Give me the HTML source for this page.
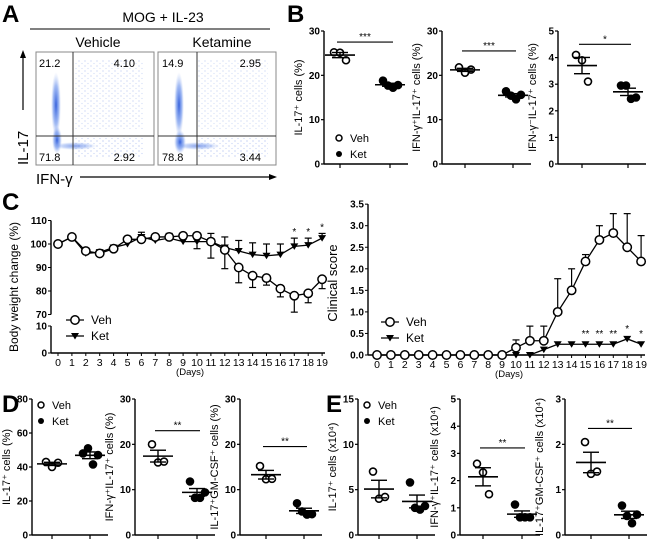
<!DOCTYPE html>
<html><head><meta charset="utf-8">
<style>
html,body{margin:0;padding:0;background:#fff;}
svg{display:block;font-family:"Liberation Sans",Arial,sans-serif;}
.tk{font-size:10px;font-weight:bold;}
.tl{font-size:11px;}
.pl{font-size:24px;font-weight:bold;}
</style></head>
<body>
<svg id="fig" width="650" height="540" viewBox="0 0 650 540" xmlns="http://www.w3.org/2000/svg">
<defs>
<radialGradient id="blob" cx="50%" cy="50%" r="50%">
<stop offset="0%" stop-color="#1e4fd8" stop-opacity="0.9"/>
<stop offset="60%" stop-color="#4a7ae8" stop-opacity="0.5"/>
<stop offset="100%" stop-color="#9bb4f0" stop-opacity="0"/>
</radialGradient>
<pattern id="dots" width="6" height="5" patternUnits="userSpaceOnUse">
<circle cx="1" cy="1" r="0.6" fill="#7f9be6"/><circle cx="4" cy="3.5" r="0.6" fill="#a7bcef"/>
</pattern>
</defs>
<!-- Panel A -->
<g>
<text class="pl" x="2" y="22">A</text>
<text x="163" y="22" font-size="14" text-anchor="middle">MOG + IL-23</text>
<line x1="30" y1="29" x2="270" y2="29" stroke="#000" stroke-width="1"/>
<text x="98" y="47" font-size="14" text-anchor="middle">Vehicle</text>
<text x="222" y="47" font-size="14" text-anchor="middle">Ketamine</text>
<g>
<rect x="36" y="52" width="118" height="113" fill="#fff" stroke="#888"/>
<rect x="74" y="60" width="70" height="70" fill="url(#dots)" opacity="0.55"/>
<rect x="74" y="138" width="70" height="20" fill="url(#dots)" opacity="0.7"/>
<ellipse cx="56" cy="105" rx="5" ry="33" fill="url(#blob)"/>
<ellipse cx="57" cy="140" rx="5" ry="14" fill="url(#blob)"/>
<ellipse cx="75" cy="146" rx="22" ry="4" fill="url(#blob)" opacity="0.6"/>
<line x1="73" y1="52" x2="73" y2="165" stroke="#333"/>
<line x1="36" y1="136" x2="154" y2="136" stroke="#333"/>
<text x="39" y="67" font-size="11">21.2</text><text x="135" y="67" font-size="11" text-anchor="end">4.10</text>
<text x="39" y="161" font-size="11">71.8</text><text x="135" y="161" font-size="11" text-anchor="end">2.92</text>
</g>
<g>
<rect x="158" y="52" width="118" height="113" fill="#fff" stroke="#888"/>
<rect x="198" y="60" width="70" height="70" fill="url(#dots)" opacity="0.5"/>
<rect x="198" y="138" width="70" height="20" fill="url(#dots)" opacity="0.7"/>
<ellipse cx="179" cy="105" rx="5" ry="33" fill="url(#blob)"/>
<ellipse cx="180" cy="142" rx="6" ry="12" fill="url(#blob)"/>
<ellipse cx="198" cy="146" rx="22" ry="4" fill="url(#blob)" opacity="0.6"/>
<line x1="197" y1="52" x2="197" y2="165" stroke="#333"/>
<line x1="158" y1="136" x2="276" y2="136" stroke="#333"/>
<text x="162" y="67" font-size="11">14.9</text><text x="261" y="67" font-size="11" text-anchor="end">2.95</text>
<text x="162" y="161" font-size="11">78.8</text><text x="261" y="161" font-size="11" text-anchor="end">3.44</text>
</g>
<text transform="translate(28,165) rotate(-90)" font-size="15">IL-17</text>
<line x1="23" y1="110" x2="23" y2="56" stroke="#000" stroke-width="1.2"/>
<polygon points="23,50 20,58 26,58" fill="#000"/>
<text x="36" y="184" font-size="15">IFN-γ</text>
<line x1="80" y1="177" x2="270" y2="177" stroke="#000" stroke-width="1.2"/>
<polygon points="277,177 269,174 269,180" fill="#000"/>
</g>
<text class="pl" x="287" y="22">B</text>
<text class="pl" x="2" y="210">C</text>
<text class="pl" x="2" y="412">D</text>
<text class="pl" x="326" y="412">E</text>
<g id="charts"></g>
</svg>
<script>
// ---- Panel B data ----
const b1Veh=[25.2,25.1,23.4], b1Ket=[18.8,17.7,17.2,17.8];
const b2Veh=[21.8,20.6,21.3], b2Ket=[16.4,15.4,14.6,15.6];
const b3Veh=[4.1,3.9,3.1], b3Ket=[2.95,2.95,2.45,2.5];
// ---- Panel D data ----
const d1Veh=[43,40,42.5], d1Ket=[48,51,41.5,47];
const d2Veh=[20,16,16.2], d2Ket=[11.8,8.2,8.2,9.4];
const d3Veh=[15.2,12.3,12.4], d3Ket=[7,5.2,4.5,4.6];
// ---- Panel E data ----
const e1Veh=[7,4,4.2], e1Ket=[5.8,3,2.8,3.2];
const e2Veh=[2.62,2.3,1.5], e2Ket=[1.12,0.65,0.65,0.65];
const e3Veh=[2.05,1.35,1.4], e3Ket=[0.65,0.42,0.26,0.45];
// ---- Panel C data ----
const days=[0,1,2,3,4,5,6,7,8,9,10,11,12,13,14,15,16,17,18,19];
const wVeh=[100,103,97,96,98,102,102,103,103,103.5,103.5,101,97.5,90,86.5,85.5,81,78,79,85];
const wVehErr=[0,0,0,1,0,0,0,0,0,0,0,7,8,6.5,5,3,3.5,7,4,4];
const wKet=[100,103,96,96.5,98.5,100,103,101.5,102.5,101,101,101,98.5,97,95.5,95,95.5,99,99.5,102.5];
const wKetErr=[0,0,0,1,1,0,2,0,2,0,-3,3.5,4.5,4.5,5,5,4.5,3.5,3,2];
const wStars=['','','','','','','','','','','','','','','','','','*','*','*'];
const cVeh=[0,0,0,0,0,0,0,0,0,0,0.17,0.33,0.33,1.0,1.5,2.17,2.67,2.83,2.5,2.17];
const cVehErr=[0,0,0,0,0,0,0,0,0,0,0.18,0.34,0.34,0.77,0.5,0.16,0.33,0.45,0.78,0.6];
const cKet=[0,0,0,0,0,0,0,0,0,0,0,0,0.125,0.25,0.25,0.25,0.25,0.25,0.375,0.25];
const cStars=['','','','','','','','','','','','','','','','**','**','**','*','*'];

const NS='http://www.w3.org/2000/svg';
const root=document.getElementById('charts');
function el(tag,attrs,parent,txt){const e=document.createElementNS(NS,tag);for(const k in attrs)e.setAttribute(k,attrs[k]);if(txt!==undefined)e.textContent=txt;(parent||root).appendChild(e);return e;}
function mean(a){return a.reduce((s,v)=>s+v,0)/a.length;}
function sem(a){const m=mean(a);const sd=Math.sqrt(a.reduce((s,v)=>s+(v-m)*(v-m),0)/(a.length-1));return sd/Math.sqrt(a.length);}

function dotPlot(name,ax,yTop,yBot,yMax,ticks,vOff,kOff,veh,ket,sig,sigV,title,legend){
  const g=el('g',{});
  
  
  const y=v=>yBot-(v/yMax)*(yBot-yTop);
  el('line',{x1:ax,y1:yTop,x2:ax,y2:yBot,stroke:'#000','stroke-width':1.4},g);
  el('line',{x1:ax,y1:yBot,x2:ax+kOff+18,y2:yBot,stroke:'#000','stroke-width':1.4},g);
  ticks.forEach(t=>{
    el('line',{x1:ax-3,y1:y(t),x2:ax,y2:y(t),stroke:'#000','stroke-width':1.2},g);
    const tx=el('text',{class:'tk',x:ax-4,y:y(t)+3.5,'text-anchor':'end'},g,String(t));
    
    
  });
  [vOff,kOff].forEach(o=>el('line',{x1:ax+o,y1:yBot,x2:ax+o,y2:yBot+4,stroke:'#000','stroke-width':1.2},g));
  [[veh,vOff,false],[ket,kOff,true]].forEach(([vals,o,filled])=>{
    const cx=ax+o;
    vals.forEach((v,i)=>{
      const jit=vals.length===3?[-6,0,6][i]:[-7,-2,3,8][i];
      const c=el('circle',{cx:cx+jit,cy:y(v),r:3.5,fill:filled?'#000':'#fff',stroke:'#000','stroke-width':1.6},g);
      
      
    });
    const m=mean(vals),s=sem(vals);
    el('line',{x1:cx-15,y1:y(m),x2:cx+15,y2:y(m),stroke:'#000','stroke-width':1.6},g);
    el('line',{x1:cx-8,y1:y(m+s),x2:cx+8,y2:y(m+s),stroke:'#000','stroke-width':1.4},g);
    el('line',{x1:cx-8,y1:y(m-s),x2:cx+8,y2:y(m-s),stroke:'#000','stroke-width':1.4},g);
    el('line',{x1:cx,y1:y(m+s),x2:cx,y2:y(m-s),stroke:'#000','stroke-width':1.4},g);
  });
  if(sig){
    const sy=y(sigV);
    el('line',{x1:ax+vOff-3,y1:sy,x2:ax+kOff+3,y2:sy,stroke:'#000','stroke-width':1.1},g);
    const st=el('text',{x:(2*ax+vOff+kOff)/2,y:sy-2,'text-anchor':'middle','font-size':10},g,sig);
    
    
  }
  const tt=el('text',{class:'tl',transform:`translate(${ax-22},${(yTop+yBot)/2}) rotate(-90)`,'text-anchor':'middle'},g,title);
  
  
  if(legend){
    const lg=el('g',{},g);
    
    
    el('circle',{cx:legend[0],cy:legend[1],r:3,fill:'#fff',stroke:'#000','stroke-width':1.5},lg);
    el('text',{x:legend[0]+11,y:legend[1]+4,'font-size':11},lg,'Veh');
    el('circle',{cx:legend[0],cy:legend[1]+16,r:3,fill:'#000'},lg);
    el('text',{x:legend[0]+11,y:legend[1]+20,'font-size':11},lg,'Ket');
  }
}
dotPlot('chart-b1',324,31,164,30,[0,10,20,30],16,66,b1Veh,b1Ket,'***',27.5,'IL-17⁺ cells (%)',[339,138]);
dotPlot('chart-b2',442,31,164,30,[0,10,20,30],23,71,b2Veh,b2Ket,'***',25.5,'IFN-γ⁺IL-17⁺ cells (%)');
dotPlot('chart-b3',558,31,164,5,[0,1,2,3,4,5],24,70,b3Veh,b3Ket,'*',4.5,'IFN-γ⁻IL-17⁺ cells (%)');
dotPlot('chart-d1',32,399,535,80,[0,20,40,60,80],20,58,d1Veh,d1Ket,'',0,'IL-17⁺ cells (%)',[41,405]);
dotPlot('chart-d2',135,399,535,30,[0,10,20,30],23,62,d2Veh,d2Ket,'**',23,'IFN-γ⁺IL-17⁺ cells (%)');
dotPlot('chart-d3',240,399,535,30,[0,10,20,30],26,64,d3Veh,d3Ket,'**',19.5,'IL-17⁺GM-CSF⁺ cells (%)');
dotPlot('chart-e1',358,399,535,15,[0,5,10,15],21,59,e1Veh,e1Ket,'',0,'IL-17⁺ cells (x10⁴)',[367,405]);
dotPlot('chart-e2',460,399,535,5,[0,1,2,3,4,5],23,62,e2Veh,e2Ket,'**',3.2,'IFN-γ⁺IL-17⁺ cells (x10⁴)');
dotPlot('chart-e3',565,399,535,3,[0,1,2,3],26,64,e3Veh,e3Ket,'**',2.35,'IL-17⁺GM-CSF⁺ cells (x10⁴)');

function marker(g,x,y,type){
  let m;
  if(type==='veh') m=el('circle',{cx:x,cy:y,r:4.2,fill:'#fff',stroke:'#000','stroke-width':1.5},g);
  else m=el('polygon',{points:`${x-4},${y-3} ${x+4},${y-3} ${x},${y+3.5}`,fill:'#000'},g);
  
  
}
function errBar(g,x,y1,y2){
  el('line',{x1:x,y1:y1,x2:x,y2:y2,stroke:'#000','stroke-width':1.2},g);
  el('line',{x1:x-3.5,y1:y2,x2:x+3.5,y2:y2,stroke:'#000','stroke-width':1.2},g);
}
function legendC(g,x,y){
  const lg=el('g',{},g);
  
  
  el('line',{x1:x-9,y1:y,x2:x+9,y2:y,stroke:'#000','stroke-width':1.3},lg);
  marker(lg,x,y,'veh');
  el('text',{x:x+16,y:y+4,'font-size':12},lg,'Veh');
  el('line',{x1:x-9,y1:y+16,x2:x+9,y2:y+16,stroke:'#000','stroke-width':1.3},lg);
  marker(lg,x,y+16,'ket');
  el('text',{x:x+16,y:y+20,'font-size':12},lg,'Ket');
}
function xAxisDays(g,x,y0,y1,axX,endX){
  el('line',{x1:axX,y1:y0,x2:endX,y2:y0,stroke:'#000','stroke-width':1.4},g);
  days.forEach(d=>{
    el('line',{x1:x(d),y1:y0,x2:x(d),y2:y0+3,stroke:'#000'},g);
    const t=el('text',{x:x(d),y:y0+13,'text-anchor':'middle','font-size':10.5},g,String(d));
    
    
  });
  const dl=el('text',{x:(x(0)+x(19))/2,y:y0+22,'text-anchor':'middle','font-size':9.5},g,'(Days)');
  
  
}

// Body weight chart (broken axis)
(function(){
  const g=el('g',{});
  
  
  const ax=51;
  const x=d=>58+d*13.9;
  const yU=v=>244-(v-100)*2.35;
  const yL=v=>353-v*2.7;
  el('line',{x1:ax,y1:yU(110),x2:ax,y2:yU(70),stroke:'#000','stroke-width':1.4},g);
  el('line',{x1:ax,y1:yL(10),x2:ax,y2:yL(0),stroke:'#000','stroke-width':1.4},g);
  [70,80,90,100,110].forEach(t=>{el('line',{x1:ax-3,y1:yU(t),x2:ax,y2:yU(t),stroke:'#000'},g);el('text',{class:'tk',x:ax-4,y:yU(t)+3.5,'text-anchor':'end'},g,String(t));});
  [0,10].forEach(t=>{el('line',{x1:ax-3,y1:yL(t),x2:ax,y2:yL(t),stroke:'#000'},g);el('text',{class:'tk',x:ax-4,y:yL(t)+3.5,'text-anchor':'end'},g,String(t));});
  xAxisDays(g,x,353,0,ax,325);
  const tt=el('text',{transform:'translate(18,287) rotate(-90)','text-anchor':'middle','font-size':12},g,'Body weight change (%)');
  
  
  days.forEach((d,i)=>{ if(wVehErr[i]>0) errBar(g,x(d),yU(wVeh[i]),yU(wVeh[i]-wVehErr[i])); });
  days.forEach((d,i)=>{ if(wKetErr[i]!==0) errBar(g,x(d),yU(wKet[i]),yU(wKet[i]+wKetErr[i])); });
  el('polyline',{points:days.map((d,i)=>x(d)+','+yU(wKet[i])).join(' '),fill:'none',stroke:'#000','stroke-width':1.3},g);
  el('polyline',{points:days.map((d,i)=>x(d)+','+yU(wVeh[i])).join(' '),fill:'none',stroke:'#000','stroke-width':1.3},g);
  days.forEach((d,i)=>marker(g,x(d),yU(wKet[i]),'ket'));
  days.forEach((d,i)=>marker(g,x(d),yU(wVeh[i]),'veh'));
  days.forEach((d,i)=>{ if(wStars[i]){const s=el('text',{x:x(d),y:yU(wKet[i]+Math.max(wKetErr[i],0))-3,'text-anchor':'middle','font-size':10},g,wStars[i]);}});
  legendC(g,75,320);
})();

// Clinical score chart
(function(){
  const g=el('g',{});
  
  
  const ax=368;
  const x=d=>377+d*13.9;
  const y=v=>355-v*43.1;
  el('line',{x1:ax,y1:y(3.5),x2:ax,y2:y(0),stroke:'#000','stroke-width':1.4},g);
  [0,0.5,1,1.5,2,2.5,3,3.5].forEach(t=>{el('line',{x1:ax-3,y1:y(t),x2:ax,y2:y(t),stroke:'#000'},g);el('text',{class:'tk',x:ax-4,y:y(t)+3.5,'text-anchor':'end'},g,t.toFixed(1));});
  xAxisDays(g,x,355,0,ax,645);
  const tt=el('text',{transform:'translate(337,283) rotate(-90)','text-anchor':'middle','font-size':13},g,'Clinical score');
  
  
  days.forEach((d,i)=>{ if(cVehErr[i]>0) errBar(g,x(d),y(cVeh[i]),y(cVeh[i]+cVehErr[i])); });
  el('polyline',{points:days.map((d,i)=>x(d)+','+y(cKet[i])).join(' '),fill:'none',stroke:'#000','stroke-width':1.3},g);
  el('polyline',{points:days.map((d,i)=>x(d)+','+y(cVeh[i])).join(' '),fill:'none',stroke:'#000','stroke-width':1.3},g);
  days.forEach((d,i)=>marker(g,x(d),y(cKet[i]),'ket'));
  days.forEach((d,i)=>marker(g,x(d),y(cVeh[i]),'veh'));
  days.forEach((d,i)=>{ if(cStars[i]){const s=el('text',{x:x(d),y:y(cKet[i])-7,'text-anchor':'middle','font-size':10},g,cStars[i]);}});
  legendC(g,390,322);
})();
</script>
</body></html>
